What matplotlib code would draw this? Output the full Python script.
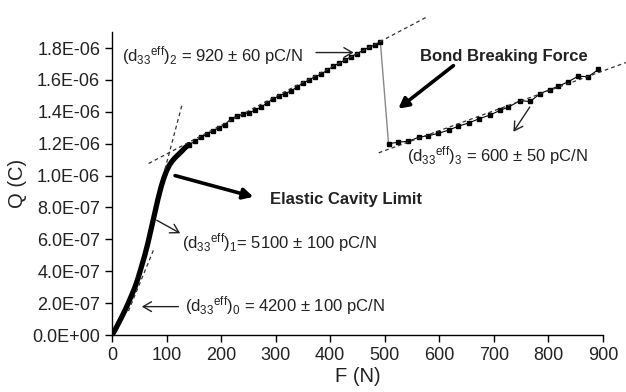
import matplotlib
matplotlib.use("Agg")
import matplotlib.pyplot as plt
from matplotlib.ticker import FuncFormatter, MultipleLocator

plt.rcParams['font.family'] = ['Liberation Sans', 'DejaVu Sans']
plt.rcParams['mathtext.fontset'] = 'custom'
plt.rcParams['mathtext.rm'] = 'Liberation Sans'
plt.rcParams['mathtext.it'] = 'Liberation Sans:italic'
plt.rcParams['mathtext.bf'] = 'Liberation Sans:bold'

# Dense initial loading curve (N, C)
F_dense = [0, 6, 12, 18, 24, 30, 36, 42, 48, 54, 60, 66, 72, 78, 84, 90, 95, 100,
           105, 110, 115, 120, 127, 134, 141]
Q_dense = [0, 0.35e-7, 0.75e-7, 1.15e-7, 1.57e-7, 2.02e-7, 2.5e-7, 3.0e-7, 3.6e-7,
           4.3e-7, 5.0e-7, 5.8e-7, 6.7e-7, 7.6e-7, 8.5e-7, 9.3e-7, 9.85e-7, 10.3e-7,
           10.65e-7, 10.9e-7, 11.1e-7, 11.27e-7, 11.5e-7, 11.75e-7, 11.95e-7]

# Upper branch before bond breaking
F_up = [141, 152, 163, 174, 185, 196, 207, 218, 229, 240, 251, 262, 273, 284, 295,
        306, 317, 328, 339, 350, 361, 372, 383, 394, 405, 416, 427, 438, 449, 460,
        471, 482, 492]
Q_up = [11.95e-7, 12.15e-7, 12.4e-7, 12.6e-7, 12.8e-7, 13.0e-7, 13.2e-7, 13.55e-7,
        13.75e-7, 13.85e-7, 13.95e-7, 14.1e-7, 14.3e-7, 14.55e-7, 14.8e-7, 15.0e-7,
        15.15e-7, 15.3e-7, 15.55e-7, 15.8e-7, 16.0e-7, 16.2e-7, 16.35e-7, 16.6e-7,
        16.85e-7, 17.05e-7, 17.25e-7, 17.45e-7, 17.65e-7, 17.85e-7, 18.05e-7,
        18.2e-7, 18.4e-7]

# Branch after bond breaking
F_low = [507, 525, 543, 562, 580, 598, 617, 635, 654, 672, 693, 712, 727, 748, 767,
         785, 803, 818, 837, 855, 873, 892]
Q_low = [12.0e-7, 12.1e-7, 12.15e-7, 12.4e-7, 12.5e-7, 12.65e-7, 12.85e-7, 13.1e-7,
         13.3e-7, 13.55e-7, 13.8e-7, 14.1e-7, 14.3e-7, 14.7e-7, 14.65e-7, 15.15e-7,
         15.4e-7, 15.6e-7, 15.9e-7, 16.24e-7, 16.2e-7, 16.66e-7]

# Fitted tangent lines (endpoints)
fit0_F = [30, 76]
fit0_Q = [1.5e-7, 5.33e-7]
fit1_F = [97, 128]
fit1_Q = [1.04e-6, 1.44e-6]
fit2_F = [67, 580]
fit2_Q = [1.076e-6, 2.0e-6]
fit3_F = [489, 943]
fit3_Q = [1.143e-6, 1.71e-6]

fig = plt.figure(figsize=(6.26, 3.92), dpi=100)
ax = fig.add_axes([0.179, 0.1454, 0.784, 0.7726])

dash = dict(color='#333333', lw=0.9, ls=(0, (3, 2.5)), clip_on=False, zorder=4)
ax.plot(fit0_F, fit0_Q, **dash)
ax.plot(fit1_F, fit1_Q, **dash)
ax.plot(fit2_F, fit2_Q, **dash)
ax.plot(fit3_F, fit3_Q, **dash)

ax.plot(F_dense, Q_dense, color='black', lw=3.8, solid_capstyle='round',
        solid_joinstyle='round', zorder=3)
ax.plot(F_up, Q_up, color='black', lw=0.8, marker='s', ms=3.3, zorder=3)
ax.plot([F_up[-1], F_low[0]], [Q_up[-1], Q_low[0]], color='#888888', lw=1.0, zorder=2)
ax.plot(F_low, Q_low, color='black', lw=0.8, marker='s', ms=3.3, zorder=3)

ax.set_xlim(0, 900)
ax.set_ylim(0, 1.9e-6)
ax.xaxis.set_major_locator(MultipleLocator(100))
ax.yaxis.set_major_locator(MultipleLocator(2e-7))
ax.yaxis.set_major_formatter(FuncFormatter(lambda v, p: f"{v:.1E}"))
for s in ['top', 'right']:
    ax.spines[s].set_visible(False)
for s in ['left', 'bottom']:
    ax.spines[s].set_linewidth(1.0)
ax.tick_params(direction='out', length=5, width=1.0, labelsize=13, colors='black',
               labelcolor='#222222')
ax.set_xlabel('F (N)', fontsize=14.5, color='#222222', labelpad=2)
ax.set_ylabel('Q (C)', fontsize=14.5, color='#222222', labelpad=4)

tfs = 12
tc = '#222222'
ax.text(18, 1.715e-6, r'(d$_{33}{}^{\mathrm{eff}}$)$_2$ = 920 ± 60 pC/N', fontsize=tfs,
        color=tc, ha='left', va='baseline')
ax.text(565, 1.72e-6, 'Bond Breaking Force', fontsize=12, fontweight='bold',
        color=tc, ha='left', va='baseline')
ax.text(540, 1.088e-6, r'(d$_{33}{}^{\mathrm{eff}}$)$_3$ = 600 ± 50 pC/N', fontsize=tfs,
        color=tc, ha='left', va='baseline')
ax.text(290, 8.21e-7, 'Elastic Cavity Limit', fontsize=12, fontweight='bold',
        color=tc, ha='left', va='baseline')
ax.text(128, 5.45e-7, r'(d$_{33}{}^{\mathrm{eff}}$)$_1$= 5100 ± 100 pC/N', fontsize=tfs,
        color=tc, ha='left', va='baseline')
ax.text(134, 1.47e-7, r'(d$_{33}{}^{\mathrm{eff}}$)$_0$ = 4200 ± 100 pC/N', fontsize=tfs,
        color=tc, ha='left', va='baseline')

thin = dict(arrowstyle='->,head_length=0.6,head_width=0.35', color='#222222', lw=1.0,
            shrinkA=0, shrinkB=0)
thick = dict(arrowstyle='-|>,head_length=0.6,head_width=0.32', color='black', lw=2.6,
             shrinkA=0, shrinkB=0)
ax.annotate('', xy=(443, 1.772e-6), xytext=(374, 1.772e-6), arrowprops=thin)
ax.annotate('', xy=(525, 1.42e-6), xytext=(626, 1.69e-6), arrowprops=thick)
ax.annotate('', xy=(736, 1.275e-6), xytext=(766, 1.43e-6), arrowprops=thin)
ax.annotate('', xy=(259, 8.67e-7), xytext=(115.6, 1.0e-6), arrowprops=thick)
ax.annotate('', xy=(125, 6.38e-7), xytext=(82, 7.2e-7), arrowprops=thin)
ax.annotate('', xy=(54.5, 1.78e-7), xytext=(121.7, 1.78e-7), arrowprops=thin)

fig.savefig('out.png', dpi=100)
